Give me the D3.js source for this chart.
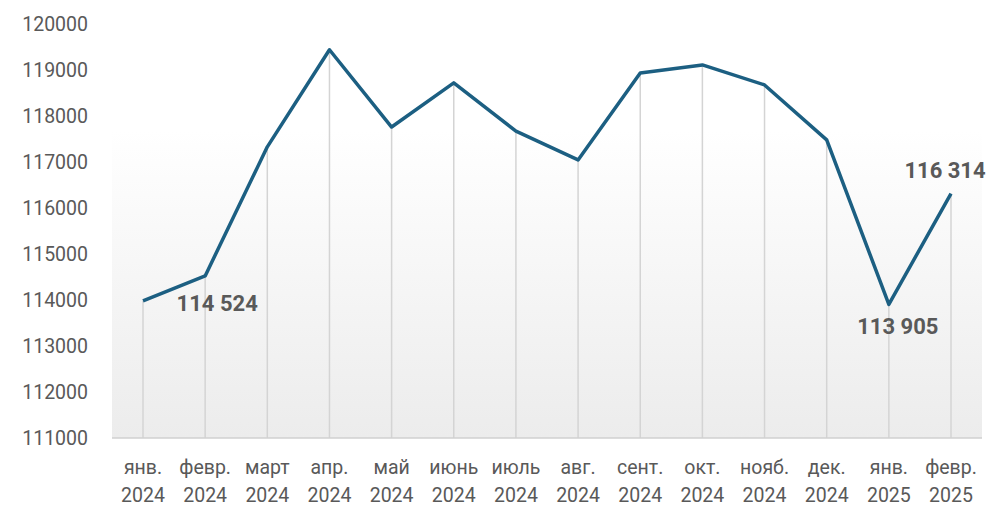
<!DOCTYPE html>
<html><head><meta charset="utf-8">
<script src="https://cdn.jsdelivr.net/npm/d3@7"></script>
<style>body{margin:0;background:#fff}svg{display:block}</style>
</head><body>
<svg id="c" width="1006" height="523"></svg>
<script>
const months = ["янв.","февр.","март","апр.","май","июнь","июль","авг.","сент.","окт.","нояб.","дек.","янв.","февр."];
const years = ["2024","2024","2024","2024","2024","2024","2024","2024","2024","2024","2024","2024","2025","2025"];
const values = [113980,114524,117330,119440,117760,118720,117670,117045,118935,119110,118675,117480,113905,116314];
const yTicks = [111000,112000,113000,114000,115000,116000,117000,118000,119000,120000];
const labelled = [{i:1,t:"114 524",dx:12,dy:35},{i:12,t:"113 905",dx:9,dy:30},{i:13,t:"116 314",dx:-6,dy:-16}];

const svg = d3.select("#c");
const x = d3.scalePoint().domain(d3.range(months.length)).range([143,951]);
const y = d3.scaleLinear().domain([111000,120000]).range([438,24]);

const defs = svg.append("defs");
const g = defs.append("linearGradient").attr("id","bg").attr("x1",0).attr("y1",0).attr("x2",0).attr("y2",1);
g.append("stop").attr("offset","0%").attr("stop-color","#ffffff");
g.append("stop").attr("offset","100%").attr("stop-color","#ececec");
svg.append("rect").attr("x",112).attr("y",130).attr("width",870).attr("height",308).attr("fill","url(#bg)");

svg.selectAll("line.drop").data(values).join("line").attr("class","drop")
  .attr("x1",(d,i)=>x(i)).attr("x2",(d,i)=>x(i)).attr("y1",d=>y(d)).attr("y2",438)
  .attr("stroke","#d4d4d4").attr("stroke-width",1.5);

svg.append("line").attr("x1",112).attr("x2",982).attr("y1",438).attr("y2",438).attr("stroke","#d0d0d0").attr("stroke-width",1.5);

svg.selectAll("text.yt").data(yTicks).join("text").attr("class","yt")
  .attr("x",88).attr("y",d=>y(d)).attr("dy","0.35em").attr("text-anchor","end")
  .attr("font-family","Roboto, 'Open Sans', sans-serif").attr("font-size",19.5).attr("fill","#595959").text(d=>d);

const xl = svg.selectAll("text.xt").data(months).join("text").attr("class","xt")
  .attr("text-anchor","middle").attr("font-family","Roboto, 'Open Sans', sans-serif").attr("font-size",19.5).attr("fill","#595959");
xl.append("tspan").attr("x",(d,i)=>x(i)).attr("y",474).text(d=>d);
xl.append("tspan").attr("x",(d,i)=>x(i)).attr("y",502).text((d,i)=>years[i]);

svg.append("path").datum(values).attr("fill","none").attr("stroke","#1c5f82").attr("stroke-width",3.5)
  .attr("stroke-linejoin","round")
  .attr("d",d3.line().x((d,i)=>x(i)).y(d=>y(d)));

svg.selectAll("text.lab").data(labelled).join("text").attr("class","lab")
  .attr("x",d=>x(d.i)+d.dx).attr("y",d=>y(values[d.i])+d.dy).attr("text-anchor","middle")
  .attr("font-family","Roboto, 'Open Sans', sans-serif").attr("font-weight","bold").attr("font-size",22)
  .attr("fill","#595959").text(d=>d.t);
</script>
</body></html>
